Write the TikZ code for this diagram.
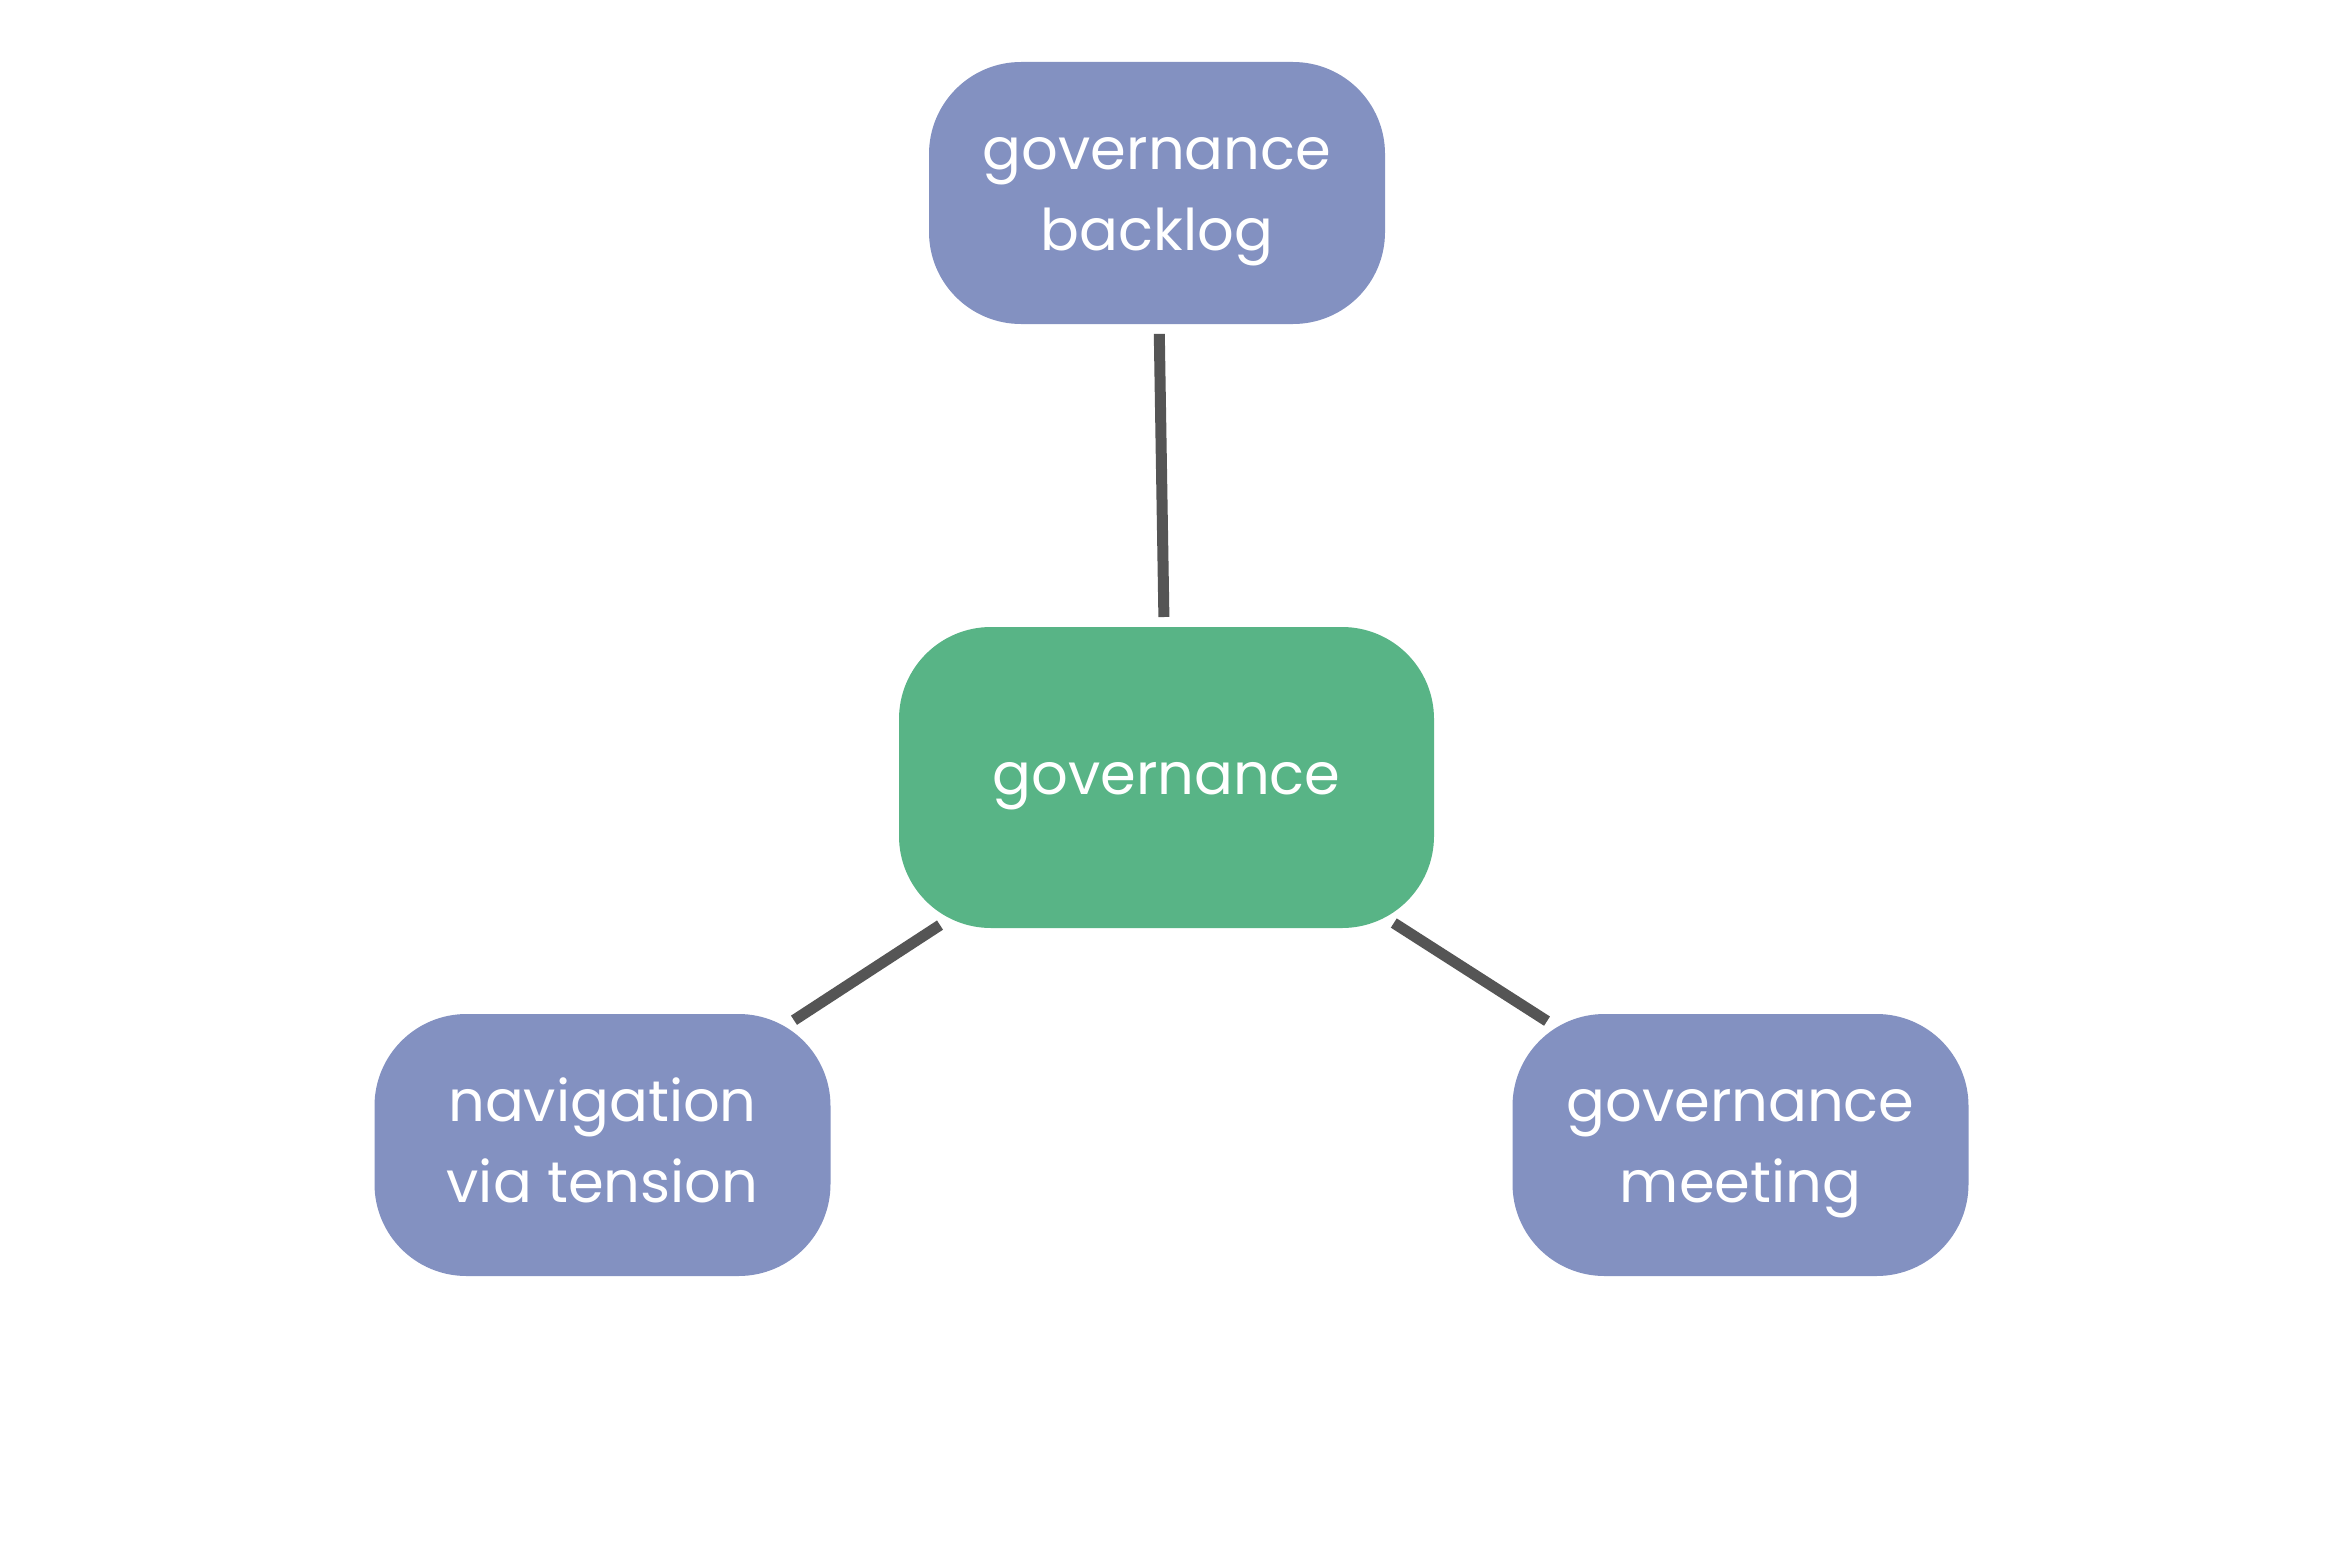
\documentclass[tikz,border=0pt]{standalone}
\usepackage{fontspec}
\setmainfont{Poppins}
\usetikzlibrary{calc}
\definecolor{boxblue}{RGB}{131,145,193}
\definecolor{boxgreen}{RGB}{88,180,134}
\definecolor{connc}{RGB}{85,85,85}
\newcommand\twolines[2]{\raisebox{0pt}[114pt][0pt]{\vbox{\baselineskip=81pt\lineskiplimit=-200pt\halign{\hfil##\hfil\cr#1\cr#2\cr}}}}
\newcommand\oneline[1]{\raisebox{0pt}[33pt][0pt]{#1}}
\begin{document}
\begin{tikzpicture}[x=1pt,y=-1pt,
  base box/.style={rectangle, rounded corners=92pt, inner sep=0pt, text=white,
    font=\fontsize{57.5}{81}\selectfont},
  side box/.style={base box, fill=boxblue, minimum width=456pt, minimum height=262pt},
  main box/.style={base box, fill=boxgreen, minimum width=535pt, minimum height=301pt},
  conn/.style={draw=connc, line width=11pt, line cap=butt}]
\useasboundingbox[fill=white] (0,0) rectangle (2333,1555);
\node[main box] (c) at (1166.5,777.5) {\oneline{governance}};
\node[side box] (t) at (1157,193) {\twolines{governance}{backlog}};
\node[side box] (l) at (602.5,1145) {\twolines{navigation}{via tension}};
\node[side box] (r) at (1740.5,1145) {\twolines{governance}{meeting}};
\draw[conn] ($(c)!0.2746!(t)$) -- ($(c)!0.759!(t)$);
\draw[conn] ($(c)!0.4016!(l)$) -- ($(c)!0.6605!(l)$);
\draw[conn] ($(c)!0.396!(r)$) -- ($(c)!0.6629!(r)$);
\end{tikzpicture}
\end{document}
